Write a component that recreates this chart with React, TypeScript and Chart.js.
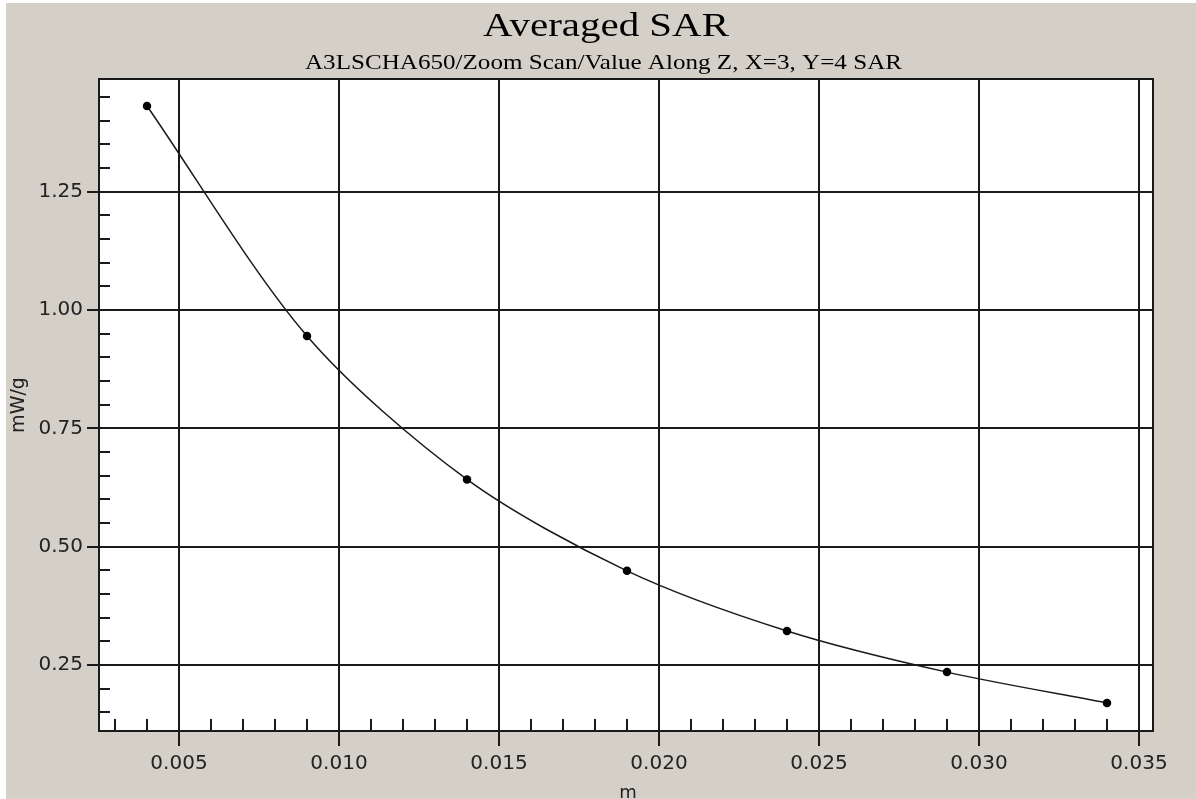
import React, { useEffect, useRef } from "react";
import { Chart, registerables } from "chart.js";

Chart.register(...registerables);

const TITLE = "Averaged SAR";
const SUBTITLE = "A3LSCHA650/Zoom Scan/Value Along Z, X=3, Y=4 SAR";
const X_TITLE = "m";
const Y_TITLE = "mW/g";

const xValues = [0.004, 0.009, 0.014, 0.019, 0.024, 0.029, 0.034];
const sarValues = [1.431, 0.945, 0.642, 0.449, 0.322, 0.235, 0.17];

const xMajorTicks = [0.005, 0.01, 0.015, 0.02, 0.025, 0.03, 0.035];
const xMinorTicks = [
  0.003, 0.004, 0.006, 0.007, 0.008, 0.009, 0.011, 0.012, 0.013, 0.014,
  0.016, 0.017, 0.018, 0.019, 0.021, 0.022, 0.023, 0.024, 0.026, 0.027,
  0.028, 0.029, 0.031, 0.032, 0.033, 0.034,
];
const yMajorTicks = [0.25, 0.5, 0.75, 1.0, 1.25];
const yMinorTicks = [
  0.15, 0.2, 0.3, 0.35, 0.4, 0.45, 0.55, 0.6, 0.65, 0.7, 0.8, 0.85, 0.9,
  0.95, 1.05, 1.1, 1.15, 1.2, 1.3, 1.35, 1.4, 1.45,
];

const X_MIN = 0.0025;
const X_MAX = 0.0354375;
const Y_MIN = 0.1106;
const Y_MAX = 1.488;

const BG = "#d4d0c8";
const INK = "#1a1a1a";

function stretchedText(
  ctx: CanvasRenderingContext2D,
  text: string,
  font: string,
  cx: number,
  baseline: number,
  targetWidth: number
) {
  ctx.save();
  ctx.font = font;
  const w = ctx.measureText(text).width;
  const sx = targetWidth / w;
  ctx.translate(cx, baseline);
  ctx.scale(sx, 1);
  ctx.textAlign = "center";
  ctx.textBaseline = "alphabetic";
  ctx.fillStyle = "#000";
  ctx.fillText(text, 0, 0);
  ctx.restore();
}

const decorPlugin = {
  id: "decor",
  beforeDraw(chart: any) {
    const { ctx, width, height, chartArea } = chart;
    ctx.save();
    ctx.fillStyle = "#ffffff";
    ctx.fillRect(0, 0, width, height);
    ctx.fillStyle = BG;
    ctx.fillRect(6, 3, width - 6, height - 3);
    ctx.fillStyle = "#ffffff";
    ctx.fillRect(
      chartArea.left,
      chartArea.top,
      chartArea.right - chartArea.left,
      chartArea.bottom - chartArea.top
    );
    ctx.restore();
  },
  afterDraw(chart: any) {
    const { ctx, chartArea, scales } = chart;
    const xs = scales.x;
    const ys = scales.y;
    ctx.save();
    ctx.strokeStyle = INK;
    ctx.lineWidth = 2;
    ctx.beginPath();
    for (const v of xMinorTicks) {
      const px = Math.round(xs.getPixelForValue(v));
      ctx.moveTo(px, chartArea.bottom);
      ctx.lineTo(px, chartArea.bottom - 12);
    }
    for (const v of yMinorTicks) {
      const py = Math.round(ys.getPixelForValue(v));
      ctx.moveTo(chartArea.left, py);
      ctx.lineTo(chartArea.left + 11, py);
    }
    ctx.stroke();
    ctx.strokeRect(
      chartArea.left,
      chartArea.top,
      chartArea.right - chartArea.left,
      chartArea.bottom - chartArea.top
    );
    ctx.restore();

    stretchedText(ctx, TITLE, '33px "Liberation Serif"', 606, 36, 246);
    stretchedText(ctx, SUBTITLE, '21px "Liberation Serif"', 603.5, 69, 597);

    ctx.save();
    ctx.fillStyle = "#222";
    ctx.font = '18px "DejaVu Sans"';
    ctx.textAlign = "center";
    ctx.textBaseline = "alphabetic";
    ctx.fillText(X_TITLE, (chartArea.left + chartArea.right) / 2 + 2, 798);
    ctx.translate(24, 405);
    ctx.rotate(-Math.PI / 2);
    ctx.font = '19px "DejaVu Sans"';
    ctx.fillText(Y_TITLE, 0, 0);
    ctx.restore();
  },
};

export default function App() {
  const ref = useRef<HTMLCanvasElement | null>(null);

  useEffect(() => {
    if (!ref.current) return;
    const chart = new Chart(ref.current, {
      type: "line",
      data: {
        datasets: [
          {
            data: xValues.map((x, i) => ({ x, y: sarValues[i] })),
            borderColor: INK,
            borderWidth: 1.5,
            pointRadius: 3.5,
            pointBackgroundColor: "#000",
            pointBorderColor: "#000",
            tension: 0.3,
            fill: false,
          },
        ],
      },
      options: {
        animation: false,
        responsive: true,
        maintainAspectRatio: false,
        layout: { padding: { left: 0, right: 43, top: 79, bottom: 0 } },
        plugins: {
          legend: { display: false },
          tooltip: { enabled: false },
          title: { display: false },
        },
        scales: {
          x: {
            type: "linear",
            min: X_MIN,
            max: X_MAX,
            afterBuildTicks: (s: any) => {
              s.ticks = xMajorTicks.map((v) => ({ value: v }));
            },
            afterFit: (s: any) => {
              s.height = 68;
            },
            grid: {
              color: INK,
              lineWidth: 2,
              tickLength: 15,
              drawTicks: true,
            },
            border: { display: true, color: INK, width: 2 },
            ticks: {
              color: "#222",
              font: { family: "DejaVu Sans", size: 20 },
              padding: 6,
              maxRotation: 0,
              autoSkip: false,
              callback: (v: any) => Number(v).toFixed(3),
            },
          },
          y: {
            type: "linear",
            min: Y_MIN,
            max: Y_MAX,
            afterBuildTicks: (s: any) => {
              s.ticks = yMajorTicks.map((v) => ({ value: v }));
            },
            afterFit: (s: any) => {
              s.width = 99;
            },
            grid: {
              color: INK,
              lineWidth: 2,
              tickLength: 12,
              drawTicks: true,
            },
            border: { display: true, color: INK, width: 2 },
            ticks: {
              color: "#222",
              font: { family: "DejaVu Sans", size: 20 },
              padding: 4,
              autoSkip: false,
              callback: (v: any) => Number(v).toFixed(2),
            },
          },
        },
      },
      plugins: [decorPlugin],
    });
    return () => chart.destroy();
  }, []);

  return (
    <div
      style={{
        position: "absolute",
        left: 0,
        top: 0,
        width: 1196,
        height: 799,
        background: BG,
      }}
    >
      <canvas ref={ref} />
    </div>
  );
}
